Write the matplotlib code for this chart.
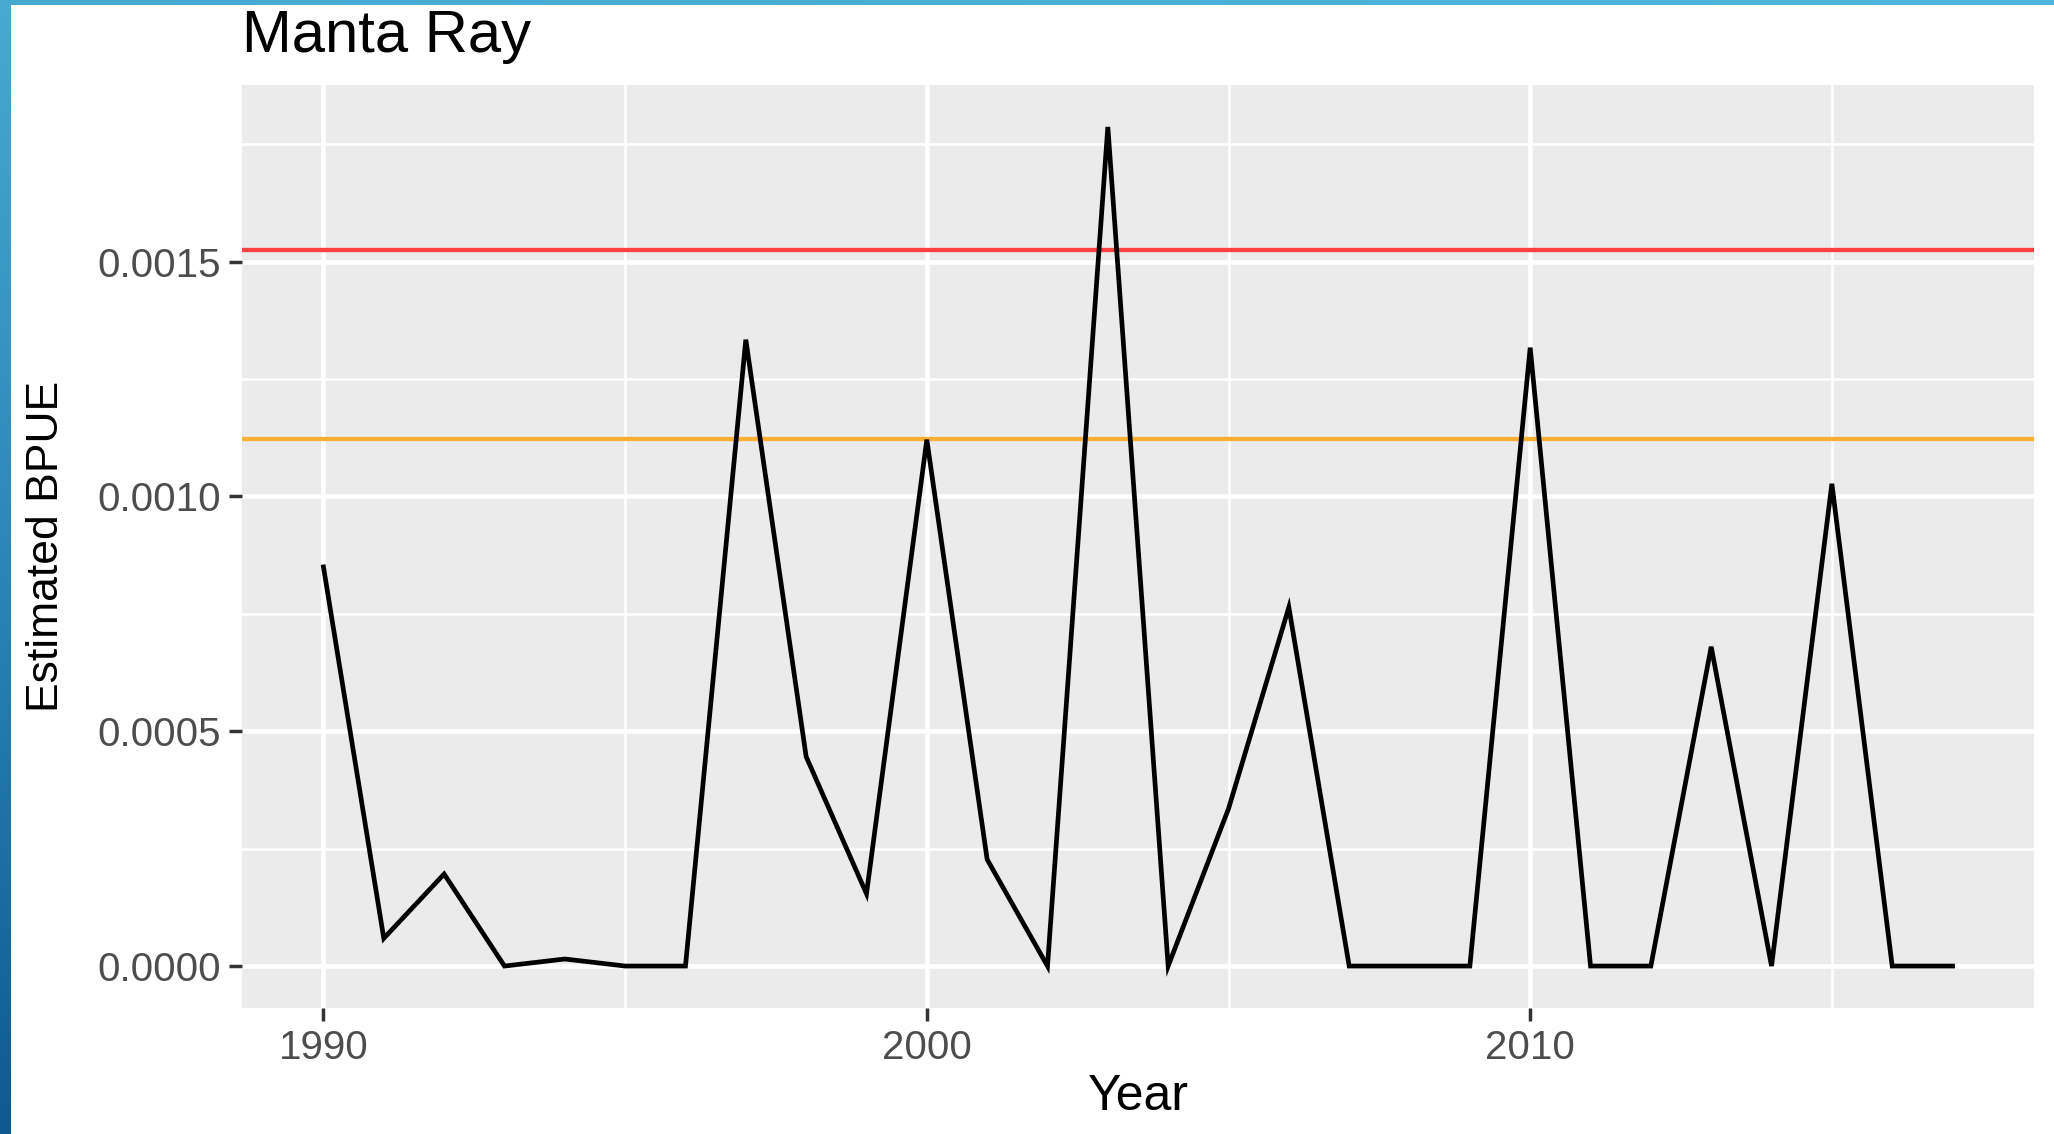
import numpy as np
import matplotlib
matplotlib.use("Agg")
import matplotlib.pyplot as plt
from matplotlib.ticker import MultipleLocator, FormatStrFormatter
from matplotlib.colors import LinearSegmentedColormap

# dane
years = list(range(1990, 2018))
bpue = [0.000850, 0.000059, 0.000196, 0.0, 0.000015, 0.0, 0.0, 0.001334,
        0.000446, 0.000154, 0.001121, 0.000227, 0.0, 0.001787, 0.0, 0.000335,
        0.000764, 0.0, 0.0, 0.0, 0.001317, 0.0, 0.0, 0.000680, 0.0, 0.001027,
        0.0, 0.0]
red_level = 0.001525
orange_level = 0.001123

title = "Manta Ray"
x_title = "Year"
y_title = "Estimated BPUE"

W, H = 2054, 1134
fig = plt.figure(figsize=(W / 100, H / 100), dpi=100)
fig.patch.set_facecolor("white")

# niebieska ramka (lewy pasek z gradientem + gorny pasek)
left = fig.add_axes([0, 0, 11 / W, 1])
grad = LinearSegmentedColormap.from_list("b", ["#46aad2", "#2a86b8", "#0c5a91"])
left.imshow(np.linspace(0, 1, 256).reshape(-1, 1), aspect="auto", cmap=grad)
left.axis("off")
top = fig.add_axes([0, 1 - 5 / H, 1, 5 / H])
topgrad = LinearSegmentedColormap.from_list("t", ["#45a9d0", "#4db8dc"])
top.imshow(np.linspace(0, 1, 256).reshape(1, -1), aspect="auto", cmap=topgrad)
top.axis("off")

# panel wykresu
px0, px1, py0, py1 = 242, 2034, 85, 1008
ax = fig.add_axes([px0 / W, 1 - py1 / H, (px1 - px0) / W, (py1 - py0) / H])
ax.set_facecolor("#ebebeb")
for s in ax.spines.values():
    s.set_visible(False)

ax.plot(years, bpue, color="black", lw=3.4, solid_joinstyle="miter", zorder=3)
ax.axhline(red_level, color="#ff4040", lw=3.1, zorder=2)
ax.axhline(orange_level, color="#fbb034", lw=3.1, zorder=2)

span = max(years) - min(years)
ax.set_xlim(min(years) - 0.05 * span, max(years) + 0.05 * span)
ymax = max(bpue)
ax.set_ylim(-0.05 * ymax, ymax * 1.05)

ax.xaxis.set_major_locator(MultipleLocator(10))
ax.xaxis.set_minor_locator(MultipleLocator(5))
ax.yaxis.set_major_locator(MultipleLocator(0.0005))
ax.yaxis.set_minor_locator(MultipleLocator(0.00025))
ax.yaxis.set_major_formatter(FormatStrFormatter("%.4f"))

ax.grid(which="major", color="white", lw=3.3, zorder=0)
ax.grid(which="minor", color="white", lw=1.8, zorder=0)
ax.set_axisbelow(True)

ax.tick_params(which="major", length=9.4, width=2.5, color="#333333",
               labelsize=29, labelcolor="#4d4d4d", pad=6)
ax.tick_params(which="minor", length=0)
for lab in ax.get_xticklabels() + ax.get_yticklabels():
    lab.set_fontfamily("Liberation Sans")

ax.set_xlabel(x_title, fontsize=36, family="Liberation Sans", color="black")
ax.xaxis.set_label_coords(0.5, (py1 - 1110) / (py1 - py0))
ax.xaxis.label.set_va("baseline")
ax.set_ylabel(y_title, fontsize=32, family="Liberation Sans", color="black")
ax.yaxis.set_label_coords((47 - px0) / (px1 - px0), 0.5)
ax.yaxis.label.set_va("center")

fig.text(px0 / W, 1 - 52 / H, title, fontsize=43, family="Liberation Sans",
         color="black", ha="left", va="baseline")

fig.savefig("out.png", dpi=100)
